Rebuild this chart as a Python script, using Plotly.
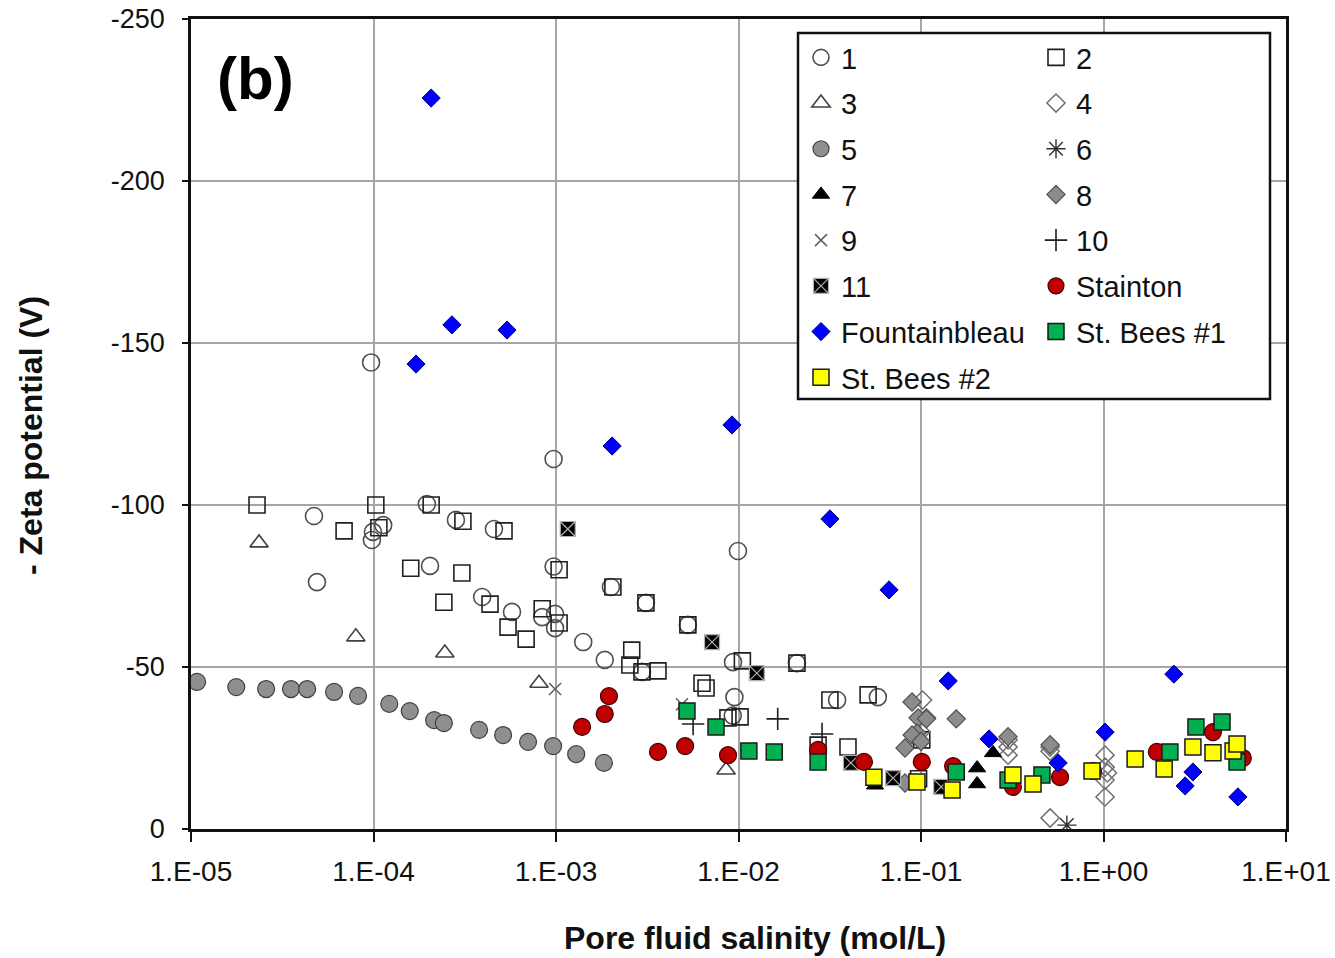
import plotly.graph_objects as go

# ---------------- data ----------------
tick_vals_x = [1e-5, 1e-4, 1e-3, 1e-2, 1e-1, 1e0, 1e1]
tick_text_x = ["1.E-05", "1.E-04", "1.E-03", "1.E-02", "1.E-01", "1.E+00", "1.E+01"]
tick_vals_y = [0, -50, -100, -150, -200, -250]
tick_text_y = ["0", "-50", "-100", "-150", "-200", "-250"]

s1_x = [4.72e-5, 4.9e-5, 9.7e-5, 9.93e-5, 9.8e-5, 1.13e-4, 1.96e-4, 2.04e-4, 2.83e-4, 4.57e-4,
        3.94e-4, 5.74e-4, 8.4e-4, 9.88e-4, 9.88e-4, 9.7e-4, 9.7e-4, 1.41e-3, 1.85e-3, 2.0e-3,
        3.11e-3, 5.28e-3, 2.96e-3, 9.93e-3, 9.33e-3, 9.5e-3, 9.3e-3, 2.09e-2, 3.47e-2, 5.8e-2]
s1_y = [-96.6, -76.2, -144, -91.7, -89.2, -93.8, -100.3, -81.2, -95.4, -92.6,
        -71.6, -67, -65.4, -66.4, -62, -81, -114.2, -57.7, -52.2, -74.7,
        -69.8, -63, -48.5, -85.8, -51.5, -40.7, -35, -51.2, -39.8, -40.7]

s2_x = [2.3e-5, 1.03e-4, 2.07e-4, 6.9e-5, 1.07e-4, 3.09e-4, 5.19e-4, 1.6e-4, 3.05e-4, 2.43e-4,
        4.35e-4, 1.04e-3, 5.46e-4, 6.86e-4, 8.4e-4, 1.04e-3, 2.05e-3, 3.11e-3, 5.28e-3, 2.6e-3,
        2.54e-3, 2.96e-3, 3.62e-3, 6.31e-3, 6.64e-3, 1.05e-2, 8.75e-3, 1.02e-2, 2.09e-2, 3.17e-2,
        5.13e-2, 2.73e-2, 3.98e-2, 0.101, 0.097]
s2_y = [-100, -100, -100, -92, -93, -95, -92, -80.5, -79, -70,
        -69.4, -80, -62.3, -58.6, -68, -63.6, -74.7, -69.8, -63, -55.2,
        -50.6, -48.5, -48.8, -45, -43.5, -51.9, -34.3, -34.6, -51.2, -39.8,
        -41.4, -25.9, -25.3, -27.5, -15.5]

s3_x = [2.36e-5, 8.0e-5, 2.46e-4, 8.07e-4, 8.55e-3]
s3_y = [-88.3, -59.3, -54.3, -45, -18.2]

s4_x = [0.102, 0.107, 0.3, 0.3, 0.3, 0.51, 0.51, 0.51, 1.02, 1.02, 1.02, 1.02, 1.05, 0.1]
s4_y = [-39.8, -34.3, -27.5, -25.3, -22.8, -25.3, -24, -3.4, -22.8, -19.1, -15.1, -9.9, -17.3, -30]

s5_x = [1.08e-5, 1.77e-5, 2.58e-5, 3.53e-5, 4.33e-5, 6.08e-5, 8.23e-5, 1.22e-4, 1.58e-4, 2.15e-4,
        2.43e-4, 3.79e-4, 5.13e-4, 7.03e-4, 9.64e-4, 1.29e-3, 1.83e-3]
s5_y = [-45.4, -43.8, -43.2, -43.2, -43.2, -42.3, -41.1, -38.6, -36.4, -33.6,
        -32.7, -30.6, -29, -26.9, -25.6, -23.1, -20.4]

s6_x = [0.63]
s6_y = [-1.2]

s7_x = [0.203, 0.203, 0.248, 0.056]
s7_y = [-18.8, -13.9, -23.5, -13.5]

s8_x = [0.0893, 0.0964, 0.107, 0.156, 0.095, 0.0894, 0.0817, 0.0817, 0.3, 0.51, 0.1]
s8_y = [-39.2, -34.3, -34, -34, -29.6, -29, -25, -14.2, -28.5, -26, -27]

s9_x = [9.88e-4, 4.9e-3]
s9_y = [-43.2, -38.5]

s10_x = [5.64e-3, 1.64e-2, 2.87e-2]
s10_y = [-32.4, -34, -29.3]

s11_x = [1.16e-3, 7.16e-3, 1.26e-2, 4.13e-2, 7.03e-2, 0.129]
s11_y = [-92.6, -57.7, -48.1, -20.4, -15.7, -13]

stainton_x = [1.95e-3, 1.85e-3, 1.39e-3, 3.62e-3, 5.1e-3, 8.76e-3, 2.73e-2, 4.87e-2, 0.101, 0.15,
              0.319, 0.578, 0.875, 1.96, 3.98, 5.8]
stainton_y = [-41, -35.5, -31.5, -23.8, -25.6, -22.8, -24.4, -20.7, -20.7, -19.4,
              -13, -16, -17.9, -23.8, -29.9, -21.9]

fontainebleau_x = [2.07e-4, 1.71e-4, 2.69e-4, 5.39e-4, 2.03e-3, 9.21e-3, 3.17e-2, 6.68e-2, 0.141, 0.236,
                   0.564, 1.02, 2.43, 3.09, 2.8, 5.45]
fontainebleau_y = [-225.6, -143.5, -155.6, -154, -118.2, -124.7, -95.7, -73.8, -45.7, -27.8,
                   -20.4, -29.9, -47.8, -17.6, -13.3, -9.9]

bees1_x = [5.22e-3, 7.53e-3, 1.14e-2, 1.57e-2, 2.73e-2, 0.156, 0.3, 0.46, 2.31, 3.21, 4.46, 5.39]
bees1_y = [-36.4, -31.5, -24.1, -23.8, -20.7, -17.6, -15.1, -16.7, -23.8, -31.5, -33, -20.7]

bees2_x = [5.52e-2, 0.095, 0.148, 0.319, 0.411, 0.865, 1.49, 2.15, 3.09, 3.98, 5.13, 5.39]
bees2_y = [-16, -14.5, -12, -16.7, -13.9, -17.9, -21.6, -18.5, -25.3, -23.5, -24.1, -26.2]

# ---------------- figure ----------------
W, H = 1335, 958
L, R, T, B = 191, 49, 19, 129
FONT = "Liberation Sans, Arial, sans-serif"

fig = go.Figure()

def add(name, x, y, symbol, size, color, lcolor, lwidth, legend):
    fig.add_trace(go.Scatter(
        x=x, y=y, mode="markers", name=name, legend=legend, legendgroup=name,
        marker=dict(symbol=symbol, size=size, color=color,
                    line=dict(color=lcolor, width=lwidth)),
    ))

add("1", s1_x, s1_y, "circle-open", 17, "#505050", "#505050", 1.6, "legend")
add("2", s2_x, s2_y, "square-open", 16, "#202020", "#202020", 1.6, "legend2")
add("3", s3_x, s3_y, "triangle-up-open", 16, "#404040", "#404040", 1.6, "legend")
add("4", s4_x, s4_y, "diamond-open", 14, "#707070", "#707070", 1.5, "legend2")
add("5", s5_x, s5_y, "circle", 17, "#8f8f8f", "#404040", 1.2, "legend")
add("6", s6_x, s6_y, "asterisk-open", 16, "#303030", "#303030", 1.4, "legend2")
add("7", s7_x, s7_y, "triangle-up", 15, "#000000", "#000000", 1, "legend")
add("8", s8_x, s8_y, "diamond", 14, "#8c8c8c", "#505050", 1.2, "legend2")
add("9", s9_x, s9_y, "x-thin-open", 12, "#606060", "#606060", 1.5, "legend")
add("10", s10_x, s10_y, "cross-thin-open", 16, "#202020", "#202020", 1.6, "legend2")
add("11", s11_x, s11_y, "square-x", 15, "#000000", "#b0b0b0", 1.2, "legend")
add("Stainton", stainton_x, stainton_y, "circle", 17, "#c00000", "#400000", 1.2, "legend2")
add("Fountainbleau", fontainebleau_x, fontainebleau_y, "diamond", 14, "#0000ff", "#000080", 1, "legend")
add("St. Bees #1", bees1_x, bees1_y, "square", 16, "#00b050", "#1a1a1a", 1.5, "legend2")
add("St. Bees #2", bees2_x, bees2_y, "square", 16, "#ffff00", "#1a1a1a", 1.5, "legend")

def px_x(p):
    return (p - L) / (W - L - R)

def px_y(p):
    return (H - B - p) / (H - T - B)

legend_common = dict(
    font=dict(family=FONT, size=29, color="#111111"),
    bgcolor="rgba(0,0,0,0)", borderwidth=0, traceorder="grouped",
    tracegroupgap=5, xanchor="left", yanchor="top", itemclick=False,
)

fig.update_layout(
    width=W, height=H,
    margin=dict(l=L, r=R, t=T, b=B, pad=0, autoexpand=False),
    paper_bgcolor="white", plot_bgcolor="white",
    font=dict(family=FONT, size=27, color="#111111"),
    showlegend=True,
    legend=dict(x=px_x(801), y=px_y(32), **legend_common),
    legend2=dict(x=px_x(1036), y=px_y(32), **legend_common),
    xaxis=dict(
        type="log", range=[-5, 1], tickvals=tick_vals_x, ticktext=tick_text_x,
        showgrid=True, gridcolor="#a6a6a6", gridwidth=1.5,
        showline=True, linecolor="#111111", linewidth=2.5, mirror=True,
        ticks="outside", ticklen=10, tickwidth=2, tickcolor="#111111",
        ticklabelstandoff=6, automargin=False,
        tickfont=dict(family=FONT, size=28, color="#111111"),
        zeroline=False,
    ),
    yaxis=dict(
        range=[0, -250], tickvals=tick_vals_y, ticktext=tick_text_y,
        showgrid=True, gridcolor="#a6a6a6", gridwidth=1.5,
        showline=True, linecolor="#111111", linewidth=2.5, mirror=True,
        ticks="outside", ticklen=6, tickwidth=2, tickcolor="#111111",
        ticklabelstandoff=12, automargin=False,
        tickfont=dict(family=FONT, size=27, color="#111111"),
        zeroline=False,
    ),
    shapes=[dict(
        type="rect", xref="paper", yref="paper", layer="above",
        x0=px_x(798), x1=px_x(1270), y0=px_y(399), y1=px_y(33),
        fillcolor="white", line=dict(color="#111111", width=2.5),
    )],
    annotations=[
        dict(text="<b>Pore fluid salinity (mol/L)</b>", xref="paper", yref="paper",
             x=px_x(755), y=px_y(938), showarrow=False, xanchor="center", yanchor="middle",
             font=dict(family=FONT, size=32, color="#111111")),
        dict(text="<b>- Zeta potential (V)</b>", xref="paper", yref="paper",
             x=px_x(31), y=px_y(436), showarrow=False, xanchor="center", yanchor="middle",
             textangle=-90, font=dict(family=FONT, size=32, color="#111111")),
        dict(text="<b>(b)</b>", xref="paper", yref="paper",
             x=px_x(255), y=px_y(78), showarrow=False, xanchor="center", yanchor="middle",
             font=dict(family=FONT, size=60, color="#000000")),
    ],
)

fig.write_html("out.html")
